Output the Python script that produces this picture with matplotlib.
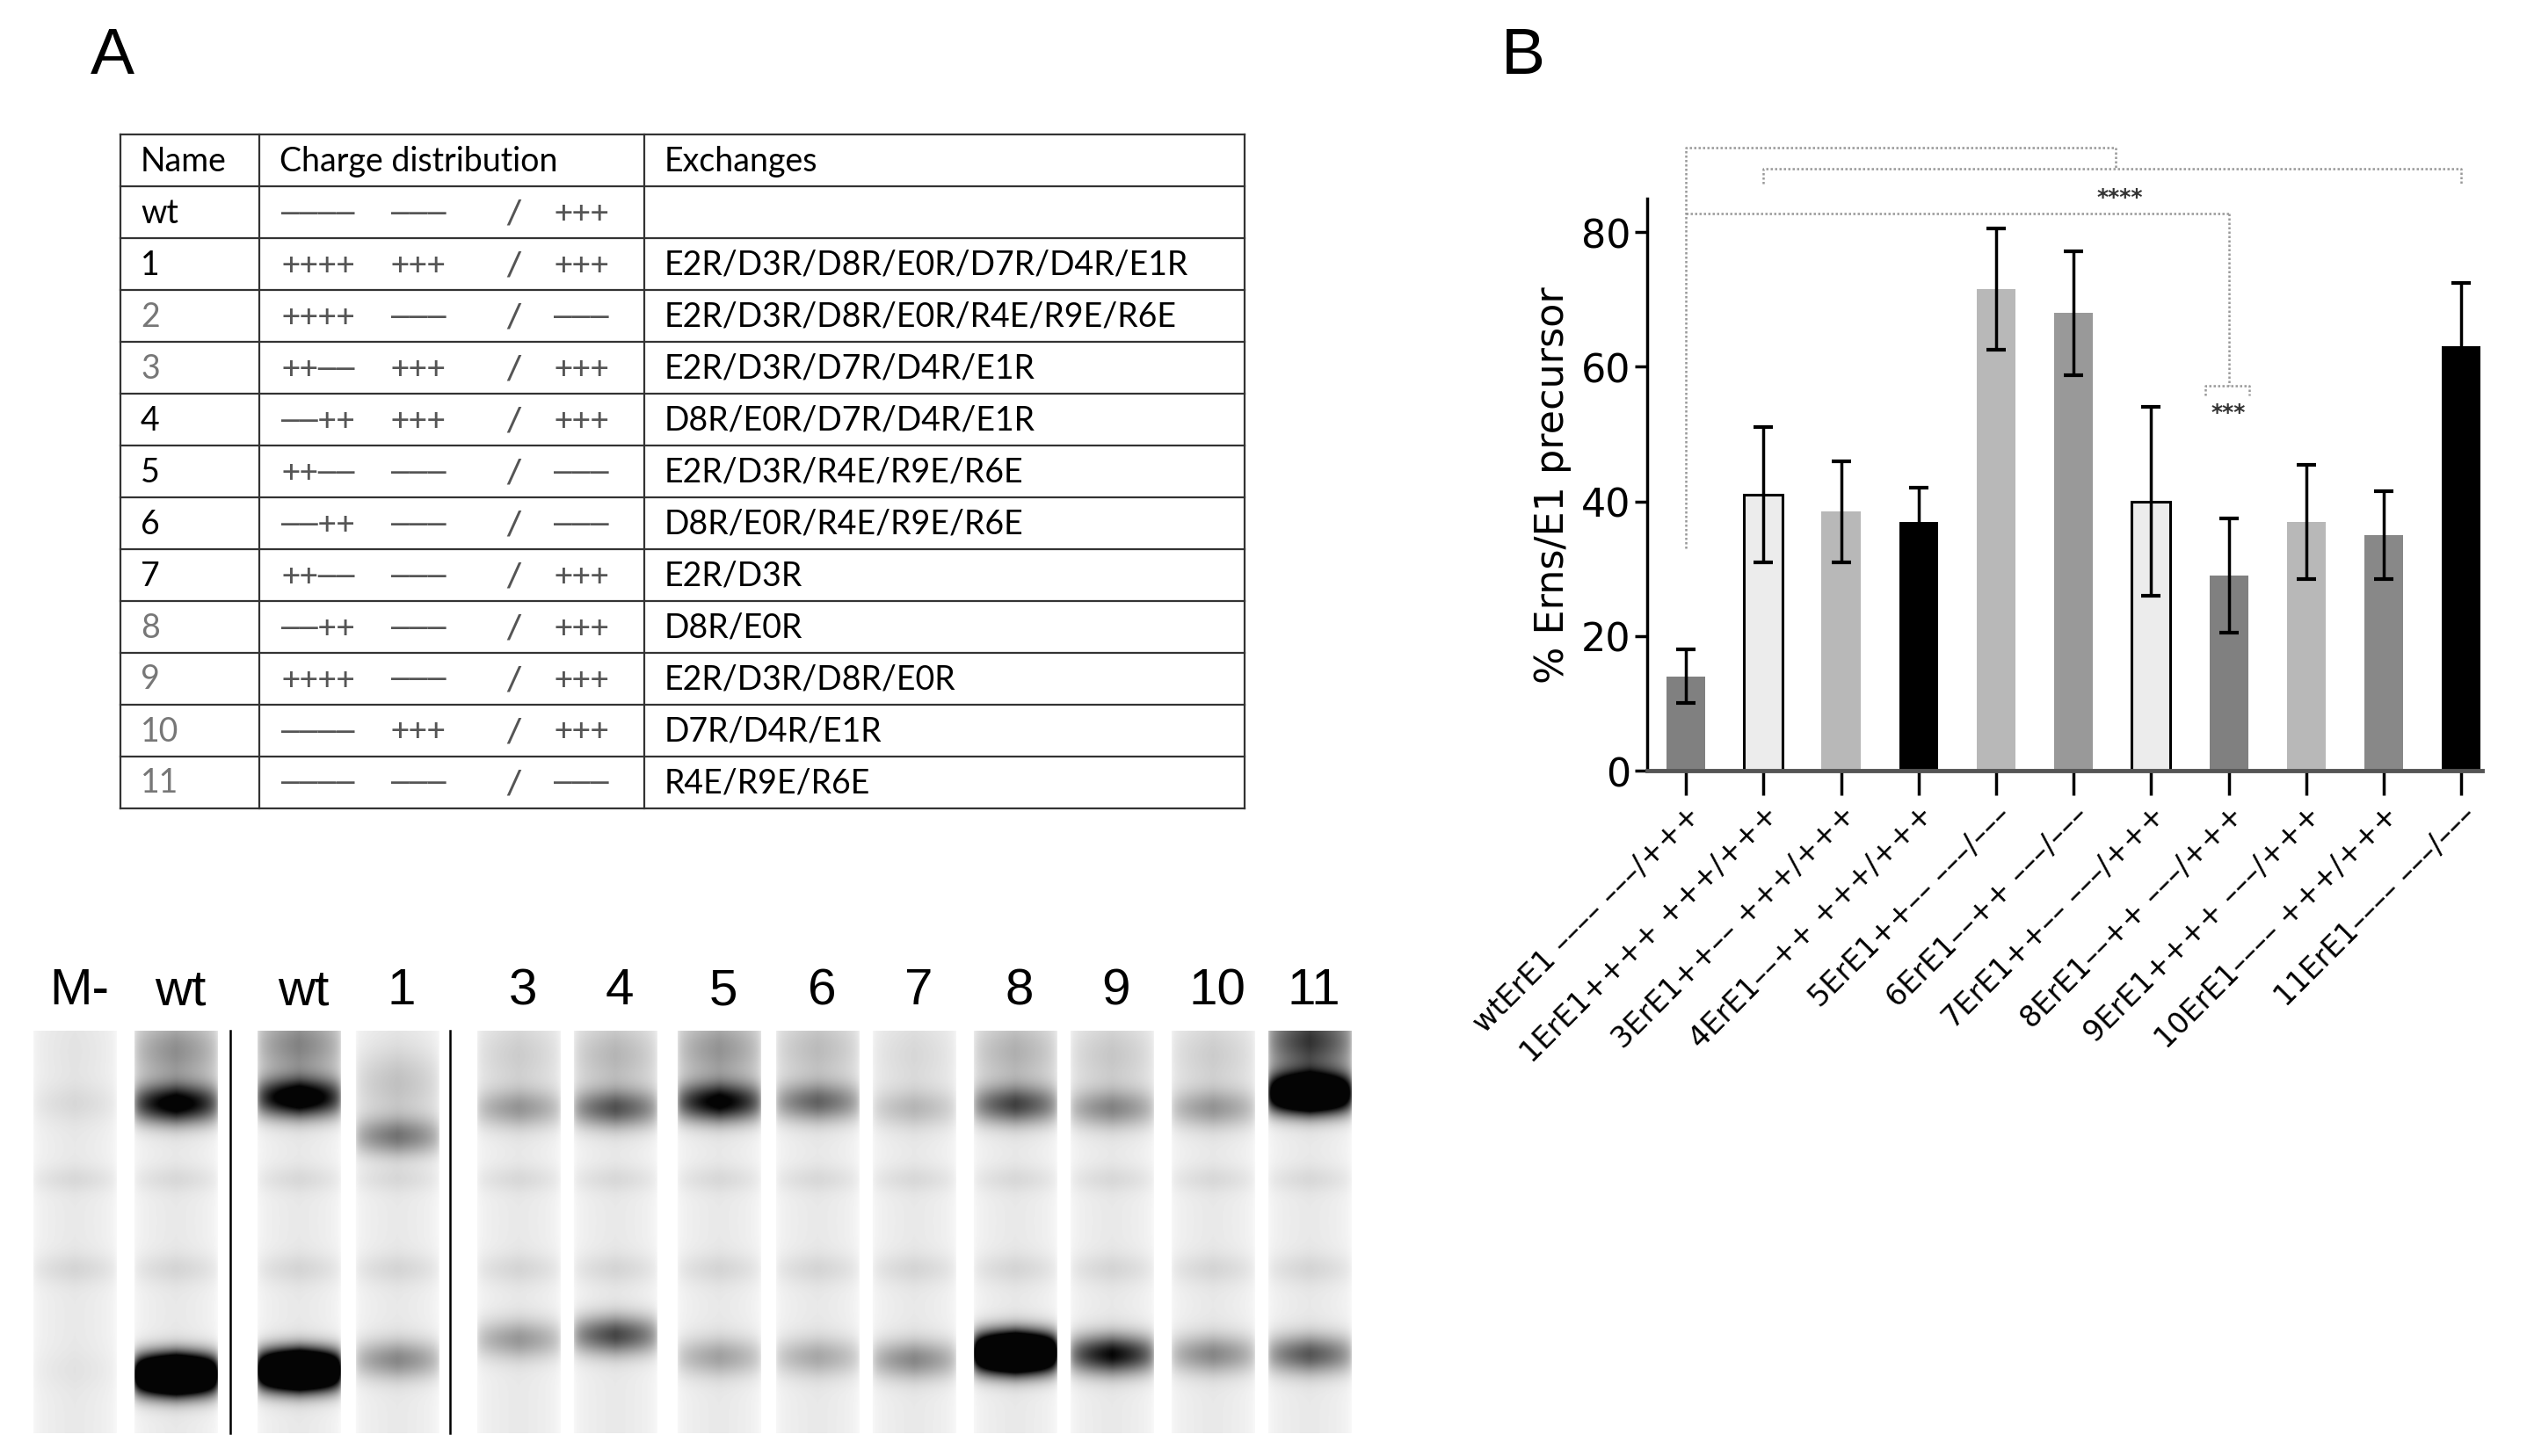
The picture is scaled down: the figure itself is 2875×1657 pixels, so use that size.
import numpy as np
import matplotlib
matplotlib.use("Agg")
import matplotlib.pyplot as plt

# ---------------- data ----------------
table_names = ["wt", "1", "2", "3", "4", "5", "6", "7", "8", "9", "10", "11"]
name_colors = ["black", "black", "#777777", "#777777", "black", "black", "black", "black", "#777777", "#777777", "#777777", "#777777"]
charge_a = ["----", "++++", "++++", "++--", "--++", "++--", "--++", "++--", "--++", "++++", "----", "----"]
charge_b = ["---", "+++", "---", "+++", "+++", "---", "---", "---", "---", "---", "+++", "---"]
charge_c = ["+++", "+++", "---", "+++", "+++", "---", "---", "+++", "+++", "+++", "+++", "---"]
exchanges = ["", "E2R/D3R/D8R/E0R/D7R/D4R/E1R", "E2R/D3R/D8R/E0R/R4E/R9E/R6E",
             "E2R/D3R/D7R/D4R/E1R", "D8R/E0R/D7R/D4R/E1R", "E2R/D3R/R4E/R9E/R6E",
             "D8R/E0R/R4E/R9E/R6E", "E2R/D3R", "D8R/E0R", "E2R/D3R/D8R/E0R",
             "D7R/D4R/E1R", "R4E/R9E/R6E"]

bar_labels = ["wtErE1 –––– –––/+++", "1ErE1++++ +++/+++", "3ErE1++–– +++/+++",
              "4ErE1––++ +++/+++", "5ErE1++–– –––/–––", "6ErE1––++ –––/–––",
              "7ErE1++–– –––/+++", "8ErE1––++ –––/+++", "9ErE1++++ –––/+++",
              "10ErE1–––– +++/+++", "11ErE1–––– –––/–––"]
bar_values = [14, 41, 38.5, 37, 71.5, 68, 40, 29, 37, 35, 63]
bar_err = [4, 10, 7.5, 5, 9, 9.2, 14, 8.5, 8.5, 6.5, 9.5]
bar_colors = ["#808080", "#ececec", "#b8b8b8", "#000000", "#b8b8b8", "#999999",
              "#ececec", "#808080", "#b8b8b8", "#888888", "#000000"]
bar_edges = ["none", "black", "none", "none", "none", "none", "black", "none", "none", "none", "none"]

gel_lanes = ["M-", "wt", "wt", "1", "3", "4", "5", "6", "7", "8", "9", "10", "11"]
gel_upper = [0.05, 0.8, 0.9, 0.35, 0.25, 0.45, 0.75, 0.4, 0.15, 0.5, 0.3, 0.25, 1.6]
gel_lower = [0.02, 2.0, 2.0, 0.3, 0.25, 0.5, 0.22, 0.2, 0.3, 2.0, 0.7, 0.3, 0.45]

# ---------------- figure ----------------
W, H = 2875, 1658
fig = plt.figure(figsize=(W / 100, H / 100), dpi=100)
bg = fig.add_axes([0, 0, 1, 1])
bg.set_xlim(0, W)
bg.set_ylim(H, 0)
bg.axis("off")

bg.text(128, 64, "A", fontsize=54, ha="center", va="center", family="Liberation Sans")
bg.text(1733, 64, "B", fontsize=54, ha="center", va="center", family="Liberation Sans")

# table
tx = [137, 295, 733, 1416]
ty0, rh = 154, 59.0
nrows = len(table_names) + 1
for i in range(nrows + 1):
    bg.plot([tx[0], tx[-1]], [ty0 + i * rh] * 2, color="#333333", lw=1.6)
for x in tx:
    bg.plot([x, x], [ty0, ty0 + nrows * rh], color="#333333", lw=1.6)
tf = dict(fontsize=27, va="center", family="Lato")
bg.text(160, ty0 + rh / 2, "Name", **tf)
bg.text(318, ty0 + rh / 2, "Charge distribution", **tf)
bg.text(756, ty0 + rh / 2, "Exchanges", **tf)
for i, nm in enumerate(table_names):
    yc = ty0 + (i + 1.5) * rh
    bg.text(160, yc, nm, color=name_colors[i], **tf)
    cf = dict(fontsize=25, va="center", family="DejaVu Sans Mono", color="#555555")
    bg.text(320, yc, charge_a[i].replace("-", "–"), **cf)
    bg.text(445, yc, charge_b[i].replace("-", "–"), **cf)
    bg.text(585, yc, "/", ha="center", **cf)
    bg.text(630, yc, charge_c[i].replace("-", "–"), **cf)
    bg.text(756, yc, exchanges[i], **tf)

# gel
gx0, gx1, gy0, gy1 = 27, 1545, 1174, 1632
lane_x = [85, 200, 340, 452, 590, 700, 818, 930, 1040, 1155, 1265, 1380, 1490]
upper_y = [1257, 1257, 1250, 1294, 1262, 1262, 1255, 1255, 1262, 1258, 1262, 1262, 1245]
lower_y = [1560, 1565, 1560, 1548, 1525, 1520, 1545, 1545, 1548, 1540, 1542, 1542, 1542]
xs = np.arange(gx0, gx1)
ys = np.arange(gy0, gy1)
X, Y = np.meshgrid(xs, ys)
dens = np.zeros_like(X, dtype=float)
for i, lx in enumerate(lane_x):
    lane = np.clip(1 - np.abs(X - lx) / 48.0, 0, 1) ** 0.3
    prof = 0.07 + 0.06 * np.exp(-((Y - 1445) / 18) ** 2) + 0.05 * np.exp(-((Y - 1343) / 15) ** 2)
    prof = prof + gel_upper[i] * np.exp(-((Y - upper_y[i]) / 22) ** 2)
    prof = prof + gel_upper[i] * 0.35 * np.exp(-((Y - upper_y[i] + 60) / 40) ** 2)
    prof = prof + gel_lower[i] * np.exp(-((Y - lower_y[i]) / 22) ** 2)
    dens += lane * prof
img = 1 - np.clip(dens * 1.3, 0, 1) * 0.98
bg.imshow(img, cmap="gray", vmin=0, vmax=1, extent=[gx0, gx1, gy1, gy0], aspect="auto", zorder=1)
for sx in [262, 512]:
    bg.plot([sx, sx], [gy0, gy1], color="black", lw=1.8, zorder=2)
for lx, lab in zip(lane_x, gel_lanes):
    bg.text(lx + 5, 1128, lab, fontsize=42, ha="center", va="center", family="Liberation Sans")
bg.set_xlim(0, W)
bg.set_ylim(H, 0)

# bar chart
ax = fig.add_axes([1874 / W, 1 - 878 / H, (2824 - 1874) / W, (878 - 227) / H])
x = np.arange(len(bar_values))
ax.bar(x, bar_values, width=0.5, color=bar_colors, edgecolor=bar_edges, linewidth=2.2, zorder=2)
ax.errorbar(x, bar_values, yerr=bar_err, fmt="none", ecolor="black", elinewidth=2.5,
            capsize=8, capthick=3, zorder=3)
ax.set_xlim(-0.5, 10.27)
ax.set_ylim(0, 85)
ax.set_yticks([0, 20, 40, 60, 80])
ax.tick_params(axis="y", labelsize=32, width=2.5, length=10)
ax.tick_params(axis="x", width=2.5, length=20)
ax.set_xticks(x)
ax.set_xticklabels(bar_labels, rotation=45, ha="right", rotation_mode="anchor", fontsize=24)
for s in ["top", "right"]:
    ax.spines[s].set_visible(False)
ax.spines["left"].set_linewidth(2.5)
ax.spines["bottom"].set_linewidth(3.5)
ax.spines["bottom"].set_color("#555555")
ax.set_ylabel("% Erns/E1 precursor", fontsize=32, labelpad=8)

# significance brackets
lk = dict(color="#999999", lw=1.8, ls=(0, (1, 1)), clip_on=False, zorder=4)
ax.plot([0, 0, 5.54, 5.54], [33, 92.6, 92.6, 89.4], **lk)
ax.plot([1, 1, 10, 10], [87.2, 89.4, 89.4, 87.2], **lk)
ax.plot([0, 7], [82.8, 82.8], **lk)
ax.plot([7, 7], [82.8, 57.2], **lk)
ax.plot([6.7, 6.7, 7.27, 7.27], [55.75, 57.2, 57.2, 55.75], **lk)
ax.text(5.6, 85.3, "****", fontsize=18, ha="center", va="center", fontweight="bold", color="#333333")
ax.text(7.0, 53.3, "***", fontsize=18, ha="center", va="center", fontweight="bold", color="#333333")

fig.savefig("out.png", dpi=100)
